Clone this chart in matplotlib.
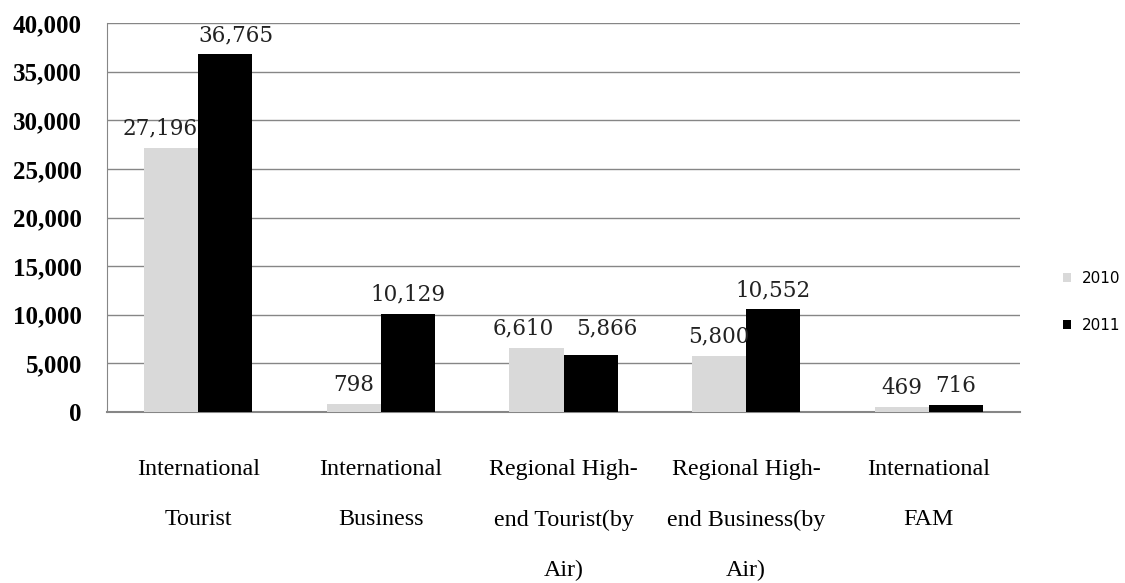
import matplotlib.pyplot as plt
import numpy as np
from matplotlib.ticker import FuncFormatter

categories = ["International\nTourist", "International\nBusiness",
              "Regional High-\nend Tourist(by\nAir)",
              "Regional High-\nend Business(by\nAir)",
              "International\nFAM"]
v2010 = [27196, 798, 6610, 5800, 469]
v2011 = [36765, 10129, 5866, 10552, 716]
years = ["2010", "2011"]

fig = plt.figure(figsize=(11.25, 5.83), dpi=100)
ax = fig.add_axes([0.0951, 0.2933, 0.8116, 0.6672])

x = np.arange(len(categories))
w = 0.296
b1 = ax.bar(x - w / 2, v2010, w, color="#d9d9d9", label=years[0], zorder=3)
b2 = ax.bar(x + w / 2, v2011, w, color="#000000", label=years[1], zorder=3)

# подписи значений; где подписи сталкиваются, они раздвинуты (в пикселях)
nudge = {(0, 0): (-11, 0), (1, 0): (11, 0), (0, 2): (-13, 0), (1, 2): (16, 8)}
for s, bars in enumerate((b1, b2)):
    for i, r in enumerate(bars):
        dx, dy = nudge.get((s, i), (0, 0))
        ax.annotate(f"{int(r.get_height()):,}", (r.get_x() + r.get_width() / 2, r.get_height()),
                    xytext=(dx, 8 + dy), textcoords="offset pixels", ha="center", va="bottom",
                    family="DejaVu Serif", fontsize=15.5, color="#222222")

ax.set_xlim(-0.5, len(categories) - 0.5)
ax.set_ylim(0, 40000)
ax.set_yticks(range(0, 40001, 5000))
ax.yaxis.set_major_formatter(FuncFormatter(lambda v, p: f"{int(v):,}"))
ax.grid(axis="y", color="#868686", lw=1, zorder=0)
ax.set_axisbelow(True)

for sp in ["top", "right"]:
    ax.spines[sp].set_visible(False)
ax.spines["left"].set_color("#868686")
ax.spines["bottom"].set_color("#868686")
ax.spines["bottom"].set_linewidth(1.5)

ax.tick_params(axis="y", length=0, pad=18)
ax.tick_params(axis="x", length=0, pad=34)
for t in ax.get_yticklabels():
    t.set_family("Liberation Serif")
    t.set_fontweight("bold")
    t.set_fontsize(18)
ax.set_xticks(x)
ax.set_xticklabels(categories, family="Liberation Serif", fontsize=17.3, linespacing=2.8, va="top")

fig.legend(loc="center left", bbox_to_anchor=(0.9326, 0.482), frameon=False,
           prop={"family": "DejaVu Sans", "size": 11}, handlelength=0.55,
           handleheight=0.55, labelspacing=2.1, handletextpad=0.7)

fig.savefig("out.png", dpi=100)
